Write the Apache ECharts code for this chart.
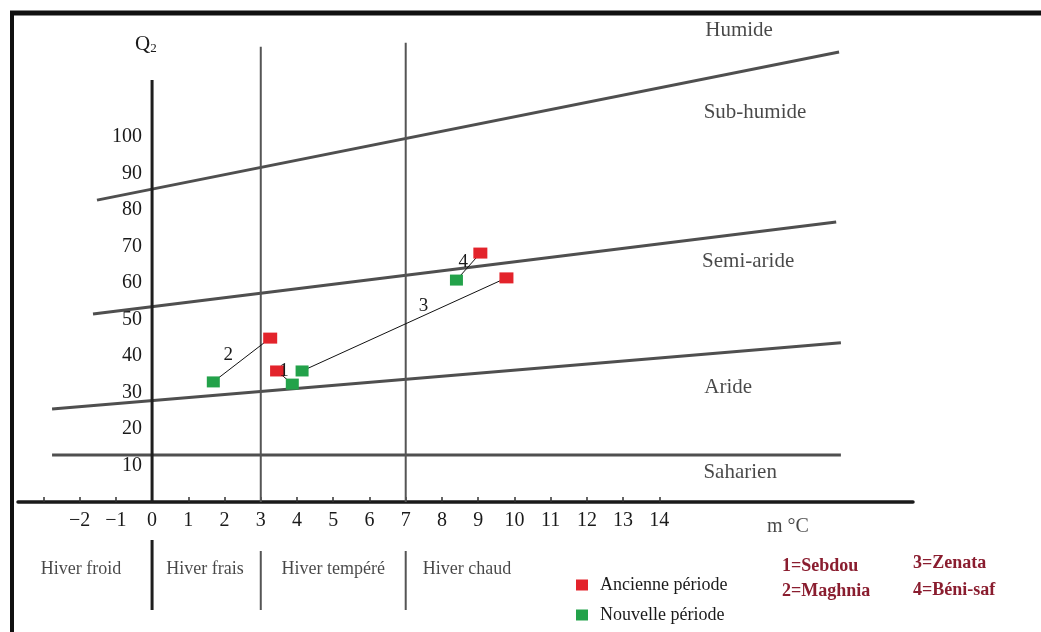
<!DOCTYPE html>
<html>
<head>
<meta charset="utf-8">
<script src="https://cdn.jsdelivr.net/npm/echarts@6/dist/echarts.min.js"></script>
<style>
  html, body { margin: 0; padding: 0; background: #ffffff; }
  #chart { width: 1041px; height: 632px; }
</style>
</head>
<body>
<div id="chart"></div>
<script>
// ---- Data (m in °C, Q2) ----
const stations = ['Sebdou', 'Maghnia', 'Zenata', 'Béni-saf'];
const ancienneM  = [3.45, 3.26, 9.78, 9.06];
const ancienneQ2 = [35.9, 44.9, 61.4, 68.2];
const nouvelleM  = [3.87, 1.69, 4.14, 8.40];
const nouvelleQ2 = [32.3, 32.9, 35.9, 60.8];

const xTickLabels = [-2, -1, 0, 1, 2, 3, 4, 5, 6, 7, 8, 9, 10, 11, 12, 13, 14];
const xTickMarks  = [-3, -2, -1, 0, 1, 2, 3, 4, 5, 6, 7, 8, 9, 10, 11, 12, 13, 14];
const yTickLabels = [10, 20, 30, 40, 50, 60, 70, 80, 90, 100];

// bioclimatic zone limits (Emberger): start / end points [m, Q2]
const limitHumide    = [[-1.52, 82.7], [18.96, 123.3]];
const limitSubHumide = [[-1.63, 51.5], [18.88, 76.7]];
const limitAride     = [[-2.76, 25.5], [19.01, 43.6]];
const limitSaharien  = [[-2.76, 12.9], [19.01, 12.9]];
const zoneNames = ['Humide', 'Sub-humide', 'Semi-aride', 'Aride', 'Saharien'];

// winter variants: thresholds in m and their upper Q2 extent
const winterLimits = [0, 3, 7];
const winterLimitTops = [115.6, 124.7, 125.8];
const winterNames = ['Hiver froid', 'Hiver frais', 'Hiver tempéré', 'Hiver chaud'];

const seriesNames = ['Ancienne période', 'Nouvelle période'];

// ---- Chart ----
const SERIF = '"Liberation Serif", "DejaVu Serif", serif';
const TXT = '#1a1a1a';
const W = 1041, H = 632;
const G = { left: 18, right: 128, top: 9.25, bottom: 5.9 };
const X_MIN = -3.7, X_MAX = 21, Y_MIN = -34, Y_MAX = 135;
const pxPerX = (W - G.left - G.right) / (X_MAX - X_MIN);
const pxPerY = (H - G.top - G.bottom) / (Y_MAX - Y_MIN);

const chart = echarts.init(document.getElementById('chart'), null, { renderer: 'canvas' });

const lineSeries = (data, color, width) => ({
  type: 'line', data: data, symbol: 'none', silent: true, animation: false,
  lineStyle: { color: color, width: width, opacity: 1 }, z: 2
});

const series = [];
[limitHumide, limitSubHumide, limitAride, limitSaharien].forEach(l => series.push(lineSeries(l, '#4f4f4f', 3)));
winterLimits.forEach((m, i) => series.push(lineSeries([[m, 0], [m, winterLimitTops[i]]], i === 0 ? '#1e1e1e' : '#555555', i === 0 ? 3 : 2)));
winterLimits.forEach((m, i) => series.push(lineSeries([[m, i === 0 ? -10.4 : -13.4], [m, -29.6]], i === 0 ? '#1e1e1e' : '#555555', i === 0 ? 3 : 2)));
stations.forEach((s, i) => series.push(lineSeries([[nouvelleM[i], nouvelleQ2[i]], [ancienneM[i], ancienneQ2[i]]], '#111111', 1)));

const numOffsets = [[7, 0], [-42, 17], [-83, 28], [-17, 9]];
series.push({
  name: seriesNames[0], type: 'scatter', symbol: 'rect', symbolSize: [14, 11], silent: true, animation: false, z: 5,
  itemStyle: { color: '#e3232b', opacity: 1 },
  data: stations.map((s, i) => ({
    value: [ancienneM[i], ancienneQ2[i]],
    label: { show: true, formatter: String(i + 1), position: 'inside', offset: numOffsets[i],
             color: TXT, fontFamily: SERIF, fontSize: 19 }
  }))
});
series.push({
  name: seriesNames[1], type: 'scatter', symbol: 'rect', symbolSize: [13, 11], silent: true, animation: false, z: 4,
  itemStyle: { color: '#23a24a', opacity: 1 },
  data: stations.map((s, i) => [nouvelleM[i], nouvelleQ2[i]])
});

const annot = (items, size) => ({
  type: 'scatter', symbol: 'circle', symbolSize: 1, silent: true, animation: false, z: 6,
  itemStyle: { color: 'rgba(0,0,0,0)' },
  label: { show: true, position: 'inside', color: TXT, fontFamily: SERIF, fontSize: size,
           formatter: p => p.data.name },
  data: items
});
const zonePos = [[16.2, 129.3], [16.64, 106.8], [16.45, 65.8], [15.9, 31.5], [16.23, 8.2]];
series.push(annot(zoneNames.map((n, i) => ({ name: n, value: zonePos[i] })), 21));
const winterPos = [-1.96, 1.46, 5.0, 8.69];
series.push(annot(winterNames.map((n, i) => ({ name: n, value: [winterPos[i], -18.4] })), 18));
series.push(annot([{ name: 'm °C', value: [17.55, -6.9] }], 20));

const keyText = (i, x, y) => ({
  type: 'text', left: x, top: y, silent: true,
  style: { text: (i + 1) + '=' + stations[i], fill: '#8a1d2f', font: 'bold 18px ' + SERIF }
});

const option = {
  animation: false,
  backgroundColor: '#ffffff',
  grid: { left: G.left, right: G.right, top: G.top, bottom: G.bottom, containLabel: false, outerBoundsMode: 'none' },
  xAxis: {
    type: 'value', min: X_MIN, max: X_MAX,
    // axis drawn where Q2 = 0
    offset: -(0 - Y_MIN) * pxPerY,
    axisLine: { show: true, onZero: false, lineStyle: { color: '#1a1a1a', width: 3.5 } },
    axisTick: { show: true, inside: true, length: 5, customValues: xTickMarks, lineStyle: { color: '#333', width: 1.5 } },
    axisLabel: { show: true, customValues: xTickLabels, margin: 9, color: TXT, fontFamily: SERIF, fontSize: 20,
                 formatter: v => (v < 0 ? '\u2212' + Math.abs(v) : String(v)) },
    splitLine: { show: false }
  },
  yAxis: {
    type: 'value', min: Y_MIN, max: Y_MAX,
    // axis drawn where m = 0
    offset: -(0 - X_MIN) * pxPerX,
    axisLine: { show: false, onZero: false },
    axisTick: { show: false },
    axisLabel: { show: true, customValues: yTickLabels, margin: 10, color: TXT, fontFamily: SERIF, fontSize: 20 },
    splitLine: { show: false }
  },
  legend: {
    data: seriesNames, orient: 'vertical', left: 571, top: 571, icon: 'rect',
    itemWidth: 12, itemHeight: 11, itemGap: 12, selectedMode: false,
    itemStyle: { opacity: 1 },
    textStyle: { color: TXT, fontFamily: SERIF, fontSize: 18, padding: [0, 0, 0, 7] }
  },
  graphic: [
    { type: 'line', silent: true, shape: { x1: 10, y1: 13, x2: 1041, y2: 13 }, style: { stroke: '#111', lineWidth: 5 } },
    { type: 'line', silent: true, shape: { x1: 12, y1: 11, x2: 12, y2: 632 }, style: { stroke: '#111', lineWidth: 4 } },
    { type: 'text', left: 135, top: 34, silent: true,
      style: { text: '{q|Q}{s|2}', rich: { q: { fontFamily: SERIF, fontSize: 21, fill: TXT },
                                          s: { fontFamily: SERIF, fontSize: 13, fill: TXT, padding: [8, 0, 0, 0] } } } },
    keyText(0, 782, 557), keyText(1, 782, 582), keyText(2, 913, 554), keyText(3, 913, 581)
  ],
  series: series
};
chart.setOption(option);
</script>
</body>
</html>
